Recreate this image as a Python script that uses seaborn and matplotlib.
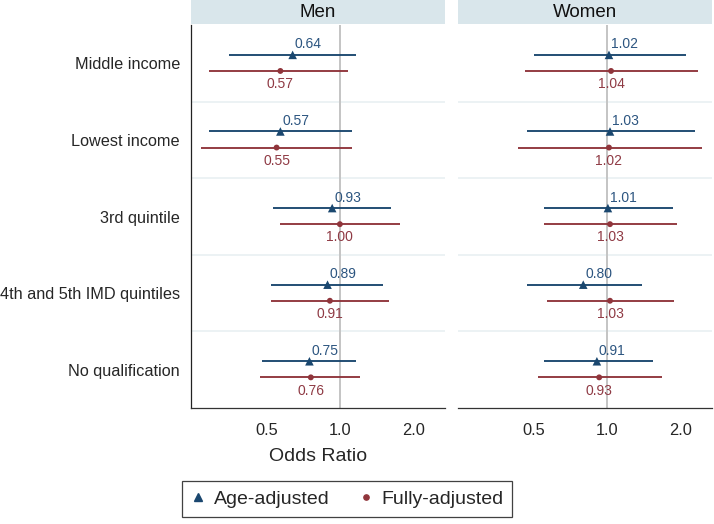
import numpy as np
import pandas as pd
import matplotlib
matplotlib.use("Agg")
import matplotlib.pyplot as plt
from matplotlib.patches import Rectangle
from matplotlib.lines import Line2D
from matplotlib.ticker import FixedLocator, NullLocator
import seaborn as sns

categories = ["Middle income", "Lowest income", "3rd quintile",
              "4th and 5th IMD quintiles", "No qualification"]
models = ["Age-adjusted", "Fully-adjusted"]

men_age_or = [0.64, 0.57, 0.93, 0.89, 0.75]
men_age_lo = [0.35, 0.29, 0.53, 0.52, 0.48]
men_age_hi = [1.16, 1.12, 1.62, 1.51, 1.17]
men_full_or = [0.57, 0.55, 1.00, 0.91, 0.76]
men_full_lo = [0.29, 0.27, 0.57, 0.52, 0.47]
men_full_hi = [1.08, 1.12, 1.77, 1.59, 1.21]

women_age_or = [1.02, 1.03, 1.01, 0.80, 0.91]
women_age_lo = [0.50, 0.47, 0.55, 0.47, 0.55]
women_age_hi = [2.12, 2.29, 1.87, 1.39, 1.54]
women_full_or = [1.04, 1.02, 1.03, 1.03, 0.93]
women_full_lo = [0.46, 0.43, 0.55, 0.57, 0.52]
women_full_hi = [2.37, 2.45, 1.94, 1.88, 1.69]

panels = {
    "Men": {"Age-adjusted": (men_age_or, men_age_lo, men_age_hi),
            "Fully-adjusted": (men_full_or, men_full_lo, men_full_hi)},
    "Women": {"Age-adjusted": (women_age_or, women_age_lo, women_age_hi),
              "Fully-adjusted": (women_full_or, women_full_lo, women_full_hi)},
}

rows = []
for sex, d in panels.items():
    for model, (est, lo, hi) in d.items():
        for i, cat in enumerate(categories):
            rows.append({"sex": sex, "model": model, "category": cat, "row": i,
                         "or": est[i], "lo": lo[i], "hi": hi[i]})
df = pd.DataFrame(rows)
offset = {"Age-adjusted": -0.11, "Fully-adjusted": 0.10}
df["y"] = df["row"] + df["model"].map(offset)

sns.set_style("white")
plt.rcParams["font.family"] = ["Liberation Sans", "DejaVu Sans"]

navy = "#1a476f"
maroon = "#90353b"
palette = {"Age-adjusted": navy, "Fully-adjusted": maroon}
markers = {"Age-adjusted": "^", "Fully-adjusted": "o"}

fig = plt.figure(figsize=(7.14, 5.24), dpi=100)
W, H = 714, 524
ax_men = fig.add_axes([191 / W, (H - 408) / H, 254 / W, 383 / H])
ax_women = fig.add_axes([458 / W, (H - 408) / H, 254 / W, 383 / H])

for ax, sex in [(ax_men, "Men"), (ax_women, "Women")]:
    sub = df[df["sex"] == sex]
    ax.set_xscale("log")
    ax.set_xlim(0.245, 2.7)
    ax.set_ylim(len(categories) - 0.5, -0.5)
    for y in np.arange(0.5, len(categories) - 0.5, 1.0):
        ax.axhline(y, color="#e9f0f2", lw=1.2, zorder=0)
    ax.axvline(1.0, color="#c4c4c4", lw=1.4, zorder=1)
    for model in models:
        m = sub[sub["model"] == model]
        ax.hlines(m["y"], m["lo"], m["hi"], color=palette[model], lw=1.35, zorder=2)
    sns.scatterplot(data=sub, x="or", y="y", hue="model", style="model",
                    palette=palette, markers=markers,
                    size="model", sizes={"Age-adjusted": 38, "Fully-adjusted": 18},
                    edgecolor="none", legend=False, ax=ax, zorder=3)
    for _, r in sub.iterrows():
        if r["model"] == "Age-adjusted":
            ax.annotate(f"{r['or']:.2f}", (r["or"], r["y"]), xytext=(1.5, 2.5),
                        textcoords="offset points", ha="left", va="bottom",
                        fontsize=10, color="#2c5580")
        else:
            ax.annotate(f"{r['or']:.2f}", (r["or"], r["y"]), xytext=(0, -4.5),
                        textcoords="offset points", ha="center", va="top",
                        fontsize=10, color="#8f3a44")
    ax.xaxis.set_major_locator(FixedLocator([0.5, 1.0, 2.0]))
    ax.xaxis.set_minor_locator(NullLocator())
    ax.set_xticklabels(["0.5", "1.0", "2.0"], fontsize=11.8)
    ax.tick_params(axis="x", length=5, width=0.9, color="#333333", pad=6)
    ax.set_xlabel("")
    ax.set_ylabel("")
    for side in ["top", "right"]:
        ax.spines[side].set_visible(False)
    ax.spines["bottom"].set_color("#333333")
    ax.spines["bottom"].set_linewidth(0.9)
    strip_h = 24 / 383
    ax.add_patch(Rectangle((0, 1.002), 1, strip_h, transform=ax.transAxes,
                           facecolor="#d9e6eb", edgecolor="none", clip_on=False))
    ax.text(0.5, 1.002 + strip_h / 2, sex, transform=ax.transAxes,
            ha="center", va="center", fontsize=13.5, color="#111111")

ax_men.set_yticks(range(len(categories)))
ax_men.set_yticklabels(categories, fontsize=11.7)
ax_men.tick_params(axis="y", length=5, width=0.9, color="#222222", pad=3)
ax_men.spines["left"].set_color("#222222")
ax_men.spines["left"].set_linewidth(0.9)
ax_women.set_yticks([])
ax_women.spines["left"].set_visible(False)

ax_men.set_xlabel("Odds Ratio", fontsize=14, labelpad=7)

handles = [Line2D([], [], marker="^", color=navy, ls="none", markersize=5.5),
           Line2D([], [], marker="o", color=maroon, ls="none", markersize=3.8)]
leg = fig.legend(handles, models, loc="center", ncol=2,
                 bbox_to_anchor=(347 / W, (H - 499) / H), fontsize=14,
                 frameon=True, fancybox=False, handletextpad=0.4,
                 columnspacing=1.45, handlelength=0.8, borderpad=0.45,
                 borderaxespad=0)
leg.get_frame().set_edgecolor("#111111")
leg.get_frame().set_linewidth(0.9)

fig.savefig("out.png", dpi=100)
